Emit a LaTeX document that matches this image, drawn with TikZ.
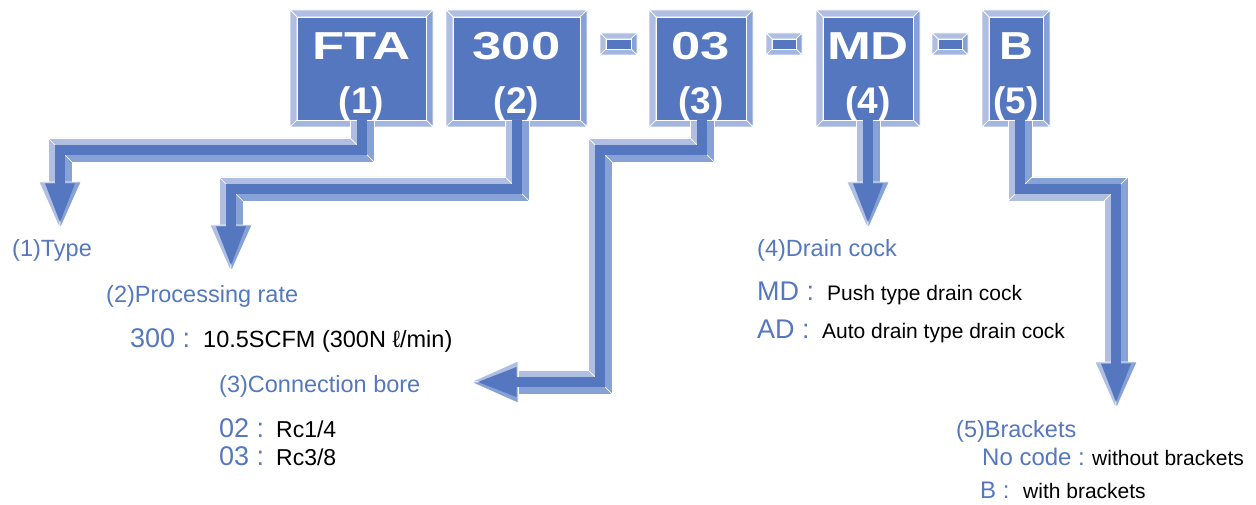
\documentclass[tikz,border=0pt]{standalone}
\usepackage{fontspec}
\setmainfont{Liberation Sans}
\usepackage{graphicx}
\definecolor{dk}{HTML}{5577BF}
\definecolor{lt}{HTML}{B0BEE2}
\definecolor{md}{HTML}{86A2D6}
\definecolor{bt}{HTML}{A3B6DF}
\definecolor{tb}{HTML}{5577BF}
\tikzset{
 bev/.style={draw=white, line width=0.7pt, line join=miter},
 boxtxt/.style={text=white, font=\fontsize{39}{40}\selectfont\bfseries, anchor=base, inner sep=0},
 numtxt/.style={text=white, font=\fontsize{37}{40}\selectfont\bfseries, anchor=base, inner sep=0},
 headtxt/.style={text=tb, font=\fontsize{23.5}{26}\selectfont, anchor=base west, inner sep=0},
 codetxt/.style={text=tb, font=\fontsize{27}{28}\selectfont, anchor=base west, inner sep=0},
 desctxt/.style={text=black, font=\fontsize{21}{24}\selectfont, anchor=base west, inner sep=0},
 shaft/.style={draw=dk, line width=10pt, line join=miter, line cap=butt},
 pics/bhead/.style={code={
   \filldraw[fill=lt,bev] (-21,0) -- (0,0) -- (0,47) -- cycle;
   \filldraw[fill=md,bev] (21,0) -- (0,0) -- (0,47) -- cycle;
   \fill[dk] (-15,1.5) -- (15,1.5) -- (0,40) -- cycle;
 }},
}
\newcommand\bevbox[5]{%
 \filldraw[fill=lt,bev] (#1,#2) -- (#3,#2) -- ({#3-#5},{#2+#5}) -- ({#1+#5},{#2+#5}) -- cycle;
 \filldraw[fill=lt,bev] (#1,#2) -- ({#1+#5},{#2+#5}) -- ({#1+#5},{#4-#5}) -- (#1,#4) -- cycle;
 \filldraw[fill=md,bev] (#3,#2) -- (#3,#4) -- ({#3-#5},{#4-#5}) -- ({#3-#5},{#2+#5}) -- cycle;
 \filldraw[fill=bt,bev] (#1,#4) -- (#3,#4) -- ({#3-#5},{#4-#5}) -- ({#1+#5},{#4-#5}) -- cycle;
 \filldraw[fill=dk,bev] ({#1+#5},{#2+#5}) rectangle ({#3-#5},{#4-#5});
}
\begin{document}
\begin{tikzpicture}[x=1pt,y=-1pt]
\useasboundingbox (0,0) rectangle (1256,505);
% boxes
\bevbox{290}{10}{433}{127}{7}
\bevbox{446}{10}{587}{127}{7}
\bevbox{649}{10}{753}{127}{7}
\bevbox{816}{10}{920}{127}{7}
\bevbox{982}{10}{1050}{127}{7}
% dashes
\bevbox{600}{33}{637}{55}{6}
\bevbox{766}{33}{802}{55}{6}
\bevbox{932}{33}{968}{55}{6}
% box texts
\node[boxtxt] (b1) at (361.5,60) {\scalebox{1.35}[1]{FTA}};
\node[numtxt] (n1) at (361.5,114) {(1)};
\node[boxtxt] (b2) at (516.5,60) {\scalebox{1.35}[1]{300}};
\node[numtxt] (n2) at (516.5,114) {(2)};
\node[boxtxt] (b3) at (701,60) {\scalebox{1.35}[1]{03}};
\node[numtxt] (n3) at (701,114) {(3)};
\node[boxtxt] (b4) at (868,60) {\scalebox{1.35}[1]{MD}};
\node[numtxt] (n4) at (868,114) {(4)};
\node[boxtxt] (b5) at (1016,60) {\scalebox{1.2}[1]{B}};
\node[numtxt] (n5) at (1016,114) {(5)};
% arrow 1
\filldraw[fill=lt,bev] (350,120) -- (350,138) -- (48,138) -- (48,182) -- (60,182) -- (60,150) -- (362,150) -- (362,120) -- cycle;
\filldraw[fill=md,bev] (374,120) -- (374,162) -- (72,162) -- (72,182) -- (60,182) -- (60,150) -- (362,150) -- (362,120) -- cycle;
\draw[bev] (350,138) -- (374,162) (48,138) -- (72,162);
\pic at (60,182) {bhead};
\draw[shaft] (362,120) -- (362,150) -- (60,150) -- (60,184);
% arrow 2
\filldraw[fill=lt,bev] (505,120) -- (505,177) -- (219,177) -- (219,225) -- (231,225) -- (231,189) -- (517,189) -- (517,120) -- cycle;
\filldraw[fill=md,bev] (529,120) -- (529,201) -- (243,201) -- (243,225) -- (231,225) -- (231,189) -- (517,189) -- (517,120) -- cycle;
\draw[bev] (505,177) -- (529,201) (219,177) -- (243,201);
\pic at (231,225) {bhead};
\draw[shaft] (517,120) -- (517,189) -- (231,189) -- (231,227);
% arrow 3
\filldraw[fill=lt,bev] (690,120) -- (690,138) -- (588,138) -- (588,370) -- (518,370) -- (518,382) -- (600,382) -- (600,150) -- (702,150) -- (702,120) -- cycle;
\filldraw[fill=md,bev] (714,120) -- (714,162) -- (612,162) -- (612,394) -- (518,394) -- (518,382) -- (600,382) -- (600,150) -- (702,150) -- (702,120) -- cycle;
\draw[bev] (690,138) -- (714,162) (588,138) -- (612,162) (588,370) -- (612,394);
\pic[rotate=-90] at (518,382) {bhead};
\draw[shaft] (702,120) -- (702,150) -- (600,150) -- (600,382) -- (516,382);
% arrow 4
\filldraw[fill=lt,bev] (856,120) -- (856,182) -- (868,182) -- (868,120) -- cycle;
\filldraw[fill=md,bev] (880,120) -- (880,182) -- (868,182) -- (868,120) -- cycle;
\pic at (868,182) {bhead};
\draw[shaft] (868,120) -- (868,184);
% arrow 5
\filldraw[fill=lt,bev] (1008,120) -- (1008,201) -- (1104,201) -- (1104,362) -- (1116,362) -- (1116,189) -- (1020,189) -- (1020,120) -- cycle;
\filldraw[fill=md,bev] (1032,120) -- (1032,177) -- (1128,177) -- (1128,362) -- (1116,362) -- (1116,189) -- (1020,189) -- (1020,120) -- cycle;
\draw[bev] (1008,201) -- (1032,177) (1104,201) -- (1128,177);
\pic at (1116,362) {bhead};
\draw[shaft] (1020,120) -- (1020,189) -- (1116,189) -- (1116,364);
% texts
\node[headtxt] (t1) at (12,257) {(1)Type};
\node[headtxt] (t2) at (106,302) {(2)Processing rate};
\node[codetxt] (c300) at (130,347) {300 :};
\node[desctxt,font=\fontsize{23.5}{24}\selectfont] (d300) at (203,347) {10.5SCFM (300N ℓ/min)};
\node[headtxt] (t3) at (219,392) {(3)Connection bore};
\node[codetxt] (c02) at (219,437) {02 :};
\node[desctxt,font=\fontsize{23}{24}\selectfont] (d02) at (276,437) {Rc1/4};
\node[codetxt] (c03) at (219,465) {03 :};
\node[desctxt,font=\fontsize{23}{24}\selectfont] (d03) at (276,465) {Rc3/8};
\node[headtxt] (t4) at (757,257) {(4)Drain cock};
\node[codetxt] (cmd) at (757,300) {MD :};
\node[desctxt] (dmd) at (827,300) {Push type drain cock};
\node[codetxt] (cad) at (757,338) {AD :};
\node[desctxt] (dad) at (822,338) {Auto drain type drain cock};
\node[headtxt] (t5) at (956,437) {(5)Brackets};
\node[codetxt,font=\fontsize{24}{26}\selectfont] (cno) at (982,465) {No code :};
\node[desctxt] (dno) at (1092,465) {without brackets};
\node[codetxt,font=\fontsize{24}{26}\selectfont] (cb) at (980,498) {B :};
\node[desctxt] (db) at (1023,498) {with brackets};
\end{tikzpicture}
\end{document}
